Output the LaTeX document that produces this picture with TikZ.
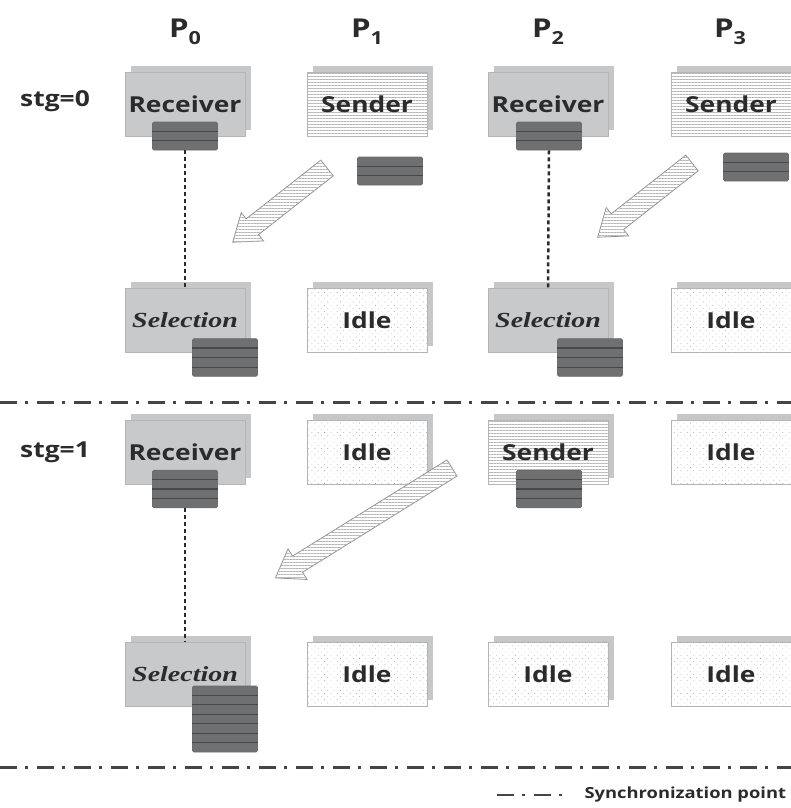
\documentclass[tikz,border=0pt]{standalone}
\usepackage{fontspec}
\setmainfont[FakeStretch=1.2]{Open Sans}
\newfontfamily\selfont[FakeStretch=1.3]{Liberation Serif}
\usepackage{tikz}
\usetikzlibrary{shadows,patterns.meta,calc}
\definecolor{recvgray}{HTML}{C8C9CB}
\definecolor{boxline}{HTML}{B4B5B7}
\definecolor{shadowgray}{HTML}{C6C7C9}
\definecolor{bufgray}{HTML}{6F7072}
\definecolor{bufsep}{HTML}{47484A}
\definecolor{hatch}{HTML}{B5B5B5}
\definecolor{dotgray}{HTML}{9A9A9A}
\definecolor{txt}{HTML}{2B2B2B}
\definecolor{syncgray}{HTML}{454545}
\tikzstyle{box}=[rectangle,minimum width=120pt,minimum height=64pt,draw=boxline,line width=0.8pt,
drop shadow={shadow xshift=6pt,shadow yshift=6pt,fill=shadowgray,opacity=1},
font=\fontsize{22}{24}\selectfont\bfseries,text=txt]
\tikzstyle{receiver}=[box,fill=recvgray]
\tikzstyle{selection}=[box,fill=recvgray,font=\fontsize{21.5}{24}\selfont\bfseries\itshape,text=txt]
\tikzstyle{sender}=[box,fill=white,postaction={pattern={Lines[distance=3pt,line width=0.5pt]},pattern color=hatch}]
\tikzstyle{idle}=[box,fill=white,postaction={pattern={Dots[distance=4.5pt,radius=0.45pt,angle=45]},pattern color=dotgray}]
\tikzstyle{buffer}=[rectangle,rounded corners=1.5pt,minimum width=65pt,inner sep=0pt,
fill=bufgray,draw=bufsep!80,line width=0.8pt]
\tikzstyle{bufline}=[bufsep,line width=1.2pt]
\tikzstyle{head}=[font=\fontsize{26}{28}\selectfont\bfseries,text=txt]
\tikzstyle{stage}=[font=\fontsize{22}{24}\selectfont\bfseries,text=txt]
\tikzstyle{bigarrow}=[fill=white,draw=hatch!80!black,line width=0.8pt,
postaction={pattern={Lines[distance=3pt,line width=0.5pt]},pattern color=hatch}]
\tikzstyle{wait}=[txt,line width=2.5pt,dash pattern=on 4pt off 3pt]
\tikzstyle{sync}=[syncgray,line width=3pt,dash pattern=on 17pt off 8pt on 3pt off 9pt]

% lines between the rows of a buffer
\newcommand{\bufrows}[2]{%
\pgfmathtruncatemacro{\lastk}{#2-1}
\foreach \k in {1,...,\lastk}
\draw[bufline] ($(#1.north west)!\k/#2!(#1.south west)$) -- ($(#1.north east)!\k/#2!(#1.south east)$);}

\begin{document}
\begin{tikzpicture}[x=1pt,y=-1pt]
\useasboundingbox (0,0) rectangle (791,808);

% processes
\node (p0) [head] at (185,32) {P\raisebox{-7pt}{\fontsize{18}{18}\selectfont 0}};
\node (p1) [head] at (367,32) {P\raisebox{-7pt}{\fontsize{18}{18}\selectfont 1}};
\node (p2) [head] at (548,32) {P\raisebox{-7pt}{\fontsize{18}{18}\selectfont 2}};
\node (p3) [head] at (730,32) {P\raisebox{-7pt}{\fontsize{18}{18}\selectfont 3}};

% stage 0
\node (stg0) [stage] at (55,101) {stg=0};
\node (recv00) [receiver] at (185,104) {Receiver};
\node (send01) [sender] at (367,104) {Sender};
\node (recv02) [receiver] at (548,104) {Receiver};
\node (send03) [sender] at (731,104) {Sender};
\node (buf00) [buffer,minimum height=28pt] at (185,136) {};
\node (buf01) [buffer,minimum height=28pt] at (390,171) {};
\node (buf02) [buffer,minimum height=28pt] at (549,136) {};
\node (buf03) [buffer,minimum height=28pt] at (756,167) {};
\bufrows{buf00}{3} \bufrows{buf01}{3} \bufrows{buf02}{3} \bufrows{buf03}{3}

\node (sel00) [selection] at (185,320) {Selection};
\node (idle01) [idle] at (367,320) {Idle};
\node (sel02) [selection] at (548,320) {Selection};
\node (idle03) [idle] at (731,320) {Idle};
\node (buf10) [buffer,minimum height=37.6pt] at (225,357.5) {};
\node (buf12) [buffer,minimum height=37.6pt] at (590,357.5) {};
\bufrows{buf10}{4} \bufrows{buf12}{4}

\draw [wait] (buf00.south) -- (sel00.north);
\draw [wait] (buf02.south) -- (sel02.north);

\draw[bigarrow,shift={(327,168)},rotate=218.2]
(0,-10) -- (95,-10) -- (95,-18) -- (120,0) -- (95,18) -- (95,10) -- (0,10) -- cycle;
\draw[bigarrow,shift={(692,163)},rotate=218.2]
(0,-10) -- (95,-10) -- (95,-18) -- (120,0) -- (95,18) -- (95,10) -- (0,10) -- cycle;

\draw[sync] (0,402) -- (791,402);

% stage 1
\node (stg1) [stage] at (55,452) {stg=1};
\node (recv10) [receiver] at (185,452) {Receiver};
\node (idle11) [idle] at (367,452) {Idle};
\node (send12) [sender] at (548,452) {Sender};
\node (idle13) [idle] at (731,452) {Idle};
\node (buf20) [buffer,minimum height=37.6pt] at (185,489) {};
\node (buf22) [buffer,minimum height=37.6pt] at (549,489) {};
\bufrows{buf20}{4} \bufrows{buf22}{4}

\node (sel10) [selection] at (185,674) {Selection};
\node (idle21) [idle] at (367,674) {Idle};
\node (idle22) [idle] at (548,674) {Idle};
\node (idle23) [idle] at (731,674) {Idle};
\node (buf30) [buffer,minimum height=66pt] at (225,719) {};
\bufrows{buf30}{7}

\draw [wait] (buf20.south) -- (sel10.north);

\draw[bigarrow,shift={(452,468)},rotate=211.9]
(0,-9.5) -- (182,-9.5) -- (182,-18) -- (208,0) -- (182,18) -- (182,9.5) -- (0,9.5) -- cycle;

\draw[sync] (0,767) -- (791,767);

% legend
\coordinate (lg1) at (497,795);
\coordinate (lg2) at (570,795);
\draw[sync,line width=2.5pt] (lg1) -- (lg2);
\node (legend) [font=\fontsize{15.3}{17}\selectfont\bfseries,text=txt,anchor=west] at (581,795) {Synchronization point};
\end{tikzpicture}
\end{document}
